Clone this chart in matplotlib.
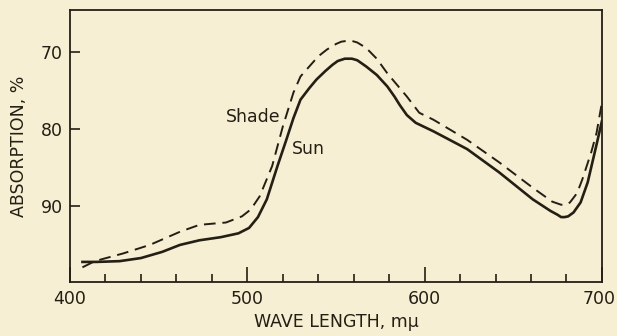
import numpy as np
import matplotlib.pyplot as plt
import matplotlib.transforms as mtransforms
from matplotlib.ticker import FixedLocator

# absorption spectra of sun and shade leaves
wl_sun = [407, 415, 428, 440, 452, 462, 473, 485, 495, 501, 506, 511, 517, 522, 526,
          530, 535, 539, 544, 548, 551, 555, 559, 562, 567, 573, 579, 583, 586, 590,
          595, 605, 624, 642, 661, 671, 675, 677, 679, 681, 684, 688, 692, 697, 700]
sun = [97.2, 97.2, 97.1, 96.7, 95.9, 95.0, 94.4, 94.0, 93.5, 92.8, 91.4, 89.1, 84.8,
       81.4, 78.6, 76.2, 74.7, 73.6, 72.5, 71.7, 71.2, 70.9, 70.9, 71.1, 71.9, 73.0,
       74.5, 75.8, 76.9, 78.2, 79.2, 80.3, 82.6, 85.6, 89.1, 90.6, 91.1, 91.4, 91.4,
       91.3, 90.8, 89.5, 86.9, 82.0, 79.0]

wl_shade = [407, 414, 430, 445, 462, 473, 488, 497, 502, 507, 514, 520, 526, 530, 535,
            540, 545, 550, 553, 556, 559, 562, 567, 573, 579, 590, 597, 605, 624, 642,
            661, 672, 677, 680, 682, 686, 689, 694, 697, 700]
shade = [97.9, 97.1, 96.1, 95.0, 93.3, 92.4, 92.1, 91.3, 90.4, 88.7, 84.8, 79.7, 75.3,
         73.2, 71.9, 70.6, 69.7, 69.0, 68.7, 68.6, 68.6, 68.8, 69.5, 70.9, 72.8, 75.8,
         77.9, 78.8, 81.4, 84.3, 87.6, 89.4, 89.8, 89.8, 89.5, 88.3, 86.5, 83.0, 80.5,
         76.6]

x_ticks = [400, 500, 600, 700]
y_ticks = [70, 80, 90]

bg = '#f7efd3'
ink = '#231f14'

plt.rcParams['font.family'] = ['DejaVu Sans']
fig = plt.figure(figsize=(6.17, 3.36), dpi=100, facecolor=bg)
ax = fig.add_axes([0.1135, 0.1607, 0.862, 0.8095], facecolor=bg)

ax.plot(wl_sun, sun, color=ink, lw=1.9, solid_joinstyle='round')
ax.plot(wl_shade, shade, color=ink, lw=1.4, dashes=(6, 3.5))

ax.set_xlim(400, 700)
ax.set_ylim(99.8, 64.6)

ax.xaxis.set_major_locator(FixedLocator(x_ticks))
ax.xaxis.set_minor_locator(FixedLocator([v for v in range(420, 700, 20) if v % 100]))
ax.yaxis.set_major_locator(FixedLocator(y_ticks))
ax.tick_params(axis='x', which='major', direction='in', length=11, width=1.2,
               colors=ink, labelsize=12.5, pad=6, top=False)
ax.tick_params(axis='x', which='minor', direction='in', length=6, width=1.2,
               colors=ink, top=False)
ax.tick_params(axis='y', which='major', direction='in', length=7, width=1.2,
               colors=ink, labelsize=12.5, pad=5, right=False)

# nudge the last x label so it stays inside the figure
fig.canvas.draw()
last = ax.get_xticklabels()[-1]
last.set_transform(last.get_transform() +
                   mtransforms.ScaledTranslation(-3 / 100, 0, fig.dpi_scale_trans))

for s in ax.spines.values():
    s.set_color(ink)
    s.set_linewidth(1.3)

ax.set_xlabel('WAVE LENGTH, mμ', fontsize=12.5, color=ink, labelpad=3)
ax.set_ylabel('ABSORPTION, %', fontsize=12.5, color=ink, labelpad=9)

ax.text(519, 78.4, 'Shade', fontsize=12.5, color=ink, ha='right', va='center')
ax.text(525, 82.6, 'Sun', fontsize=12.5, color=ink, ha='left', va='center')

fig.savefig('out.png', dpi=100, facecolor=bg)
